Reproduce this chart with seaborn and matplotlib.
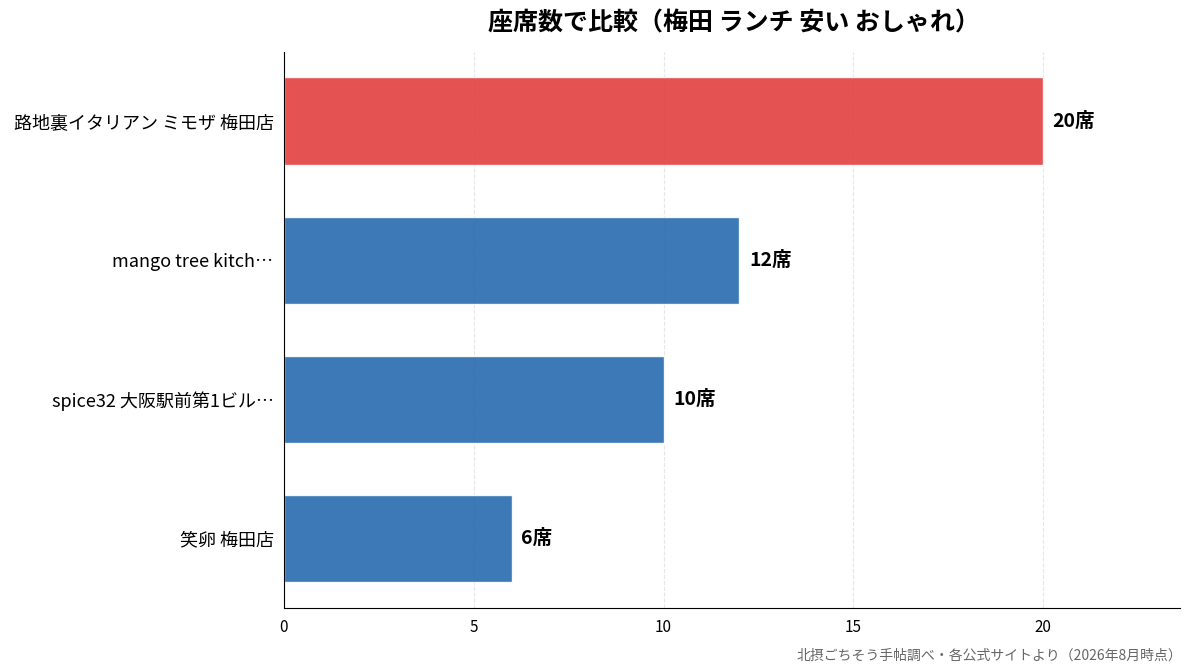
import pandas as pd
import matplotlib.pyplot as plt
import seaborn as sns

# data
SHOPS = ['路地裏イタリアン ミモザ 梅田店', 'mango tree kitch…', 'spice32 大阪駅前第1ビル…', '笑卵 梅田店']
SEATS = [20, 12, 10, 6]
TITLE = '座席数で比較（梅田 ランチ 安い おしゃれ）'
SOURCE = '北摂ごちそう手帖調べ・各公式サイトより（2026年8月時点）'

HIGHLIGHT = '#E23F3F'
BASE = '#286AAE'


def plot_seats():
    sns.set_style('white')
    plt.rcParams['font.family'] = ['Noto Sans CJK JP', 'DejaVu Sans']

    df = pd.DataFrame({'shop': SHOPS, 'seats': SEATS})
    colors = [HIGHLIGHT] + [BASE] * (len(SHOPS) - 1)

    fig = plt.figure(figsize=(11.93, 6.72), dpi=100)
    ax = fig.add_axes([0.238, 0.095, 0.751, 0.828])
    sns.barplot(data=df, y='shop', x='seats', hue='shop', palette=colors,
                legend=False, width=0.63, alpha=0.9, saturation=1,
                ax=ax, zorder=2)

    for i, v in enumerate(SEATS):
        ax.text(v + 0.25, i, f'{v}席', va='center', ha='left',
                fontsize=14, fontweight='bold', color='black')

    ax.set_xlim(0, max(SEATS) * 1.18)
    ax.set_ylim(len(SHOPS) - 0.5, -0.5)
    ax.set_xticks([0, 5, 10, 15, 20])
    ax.set_xlabel('')
    ax.set_ylabel('')
    ax.tick_params(axis='y', labelsize=13, length=4, colors='black')
    ax.tick_params(axis='x', labelsize=11, length=4, colors='black')
    ax.xaxis.grid(True, linestyle='--', color='#e6e6e6', linewidth=0.8, zorder=0)
    ax.set_axisbelow(True)
    for s in ['left', 'bottom']:
        ax.spines[s].set_color('black')
    sns.despine(ax=ax, top=True, right=True)

    fig.text(0.615, 0.965, TITLE, ha='center', va='center',
             fontsize=18, fontweight='bold', color='black')
    fig.text(0.991, 0.025, SOURCE, ha='right', va='center',
             fontsize=10, color='#666666')

    fig.savefig('out.png', dpi=100)


if __name__ == '__main__':
    plot_seats()
